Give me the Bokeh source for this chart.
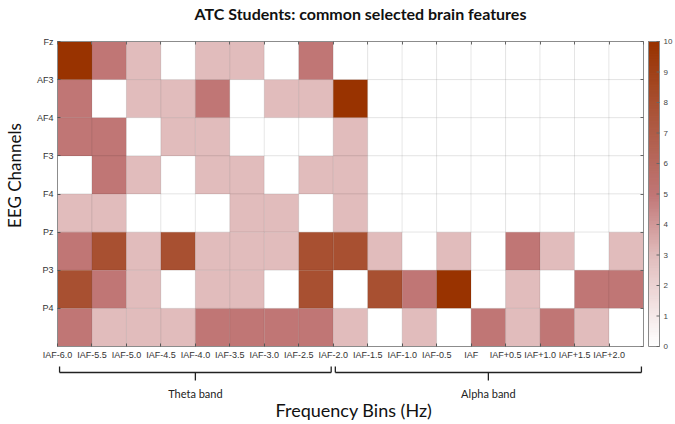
import numpy as np
from bokeh.plotting import figure
from bokeh.models import (ColumnDataSource, LinearColorMapper, FixedTicker, LinearAxis, Range1d)
from bokeh.core.properties import value
from bokeh.embed import file_html
from bokeh.resources import INLINE

# ---------------- data ----------------
channels = ["Fz", "AF3", "AF4", "F3", "F4", "Pz", "P3", "P4"]
bins = ["IAF-6.0", "IAF-5.5", "IAF-5.0", "IAF-4.5", "IAF-4.0", "IAF-3.5", "IAF-3.0",
        "IAF-2.5", "IAF-2.0", "IAF-1.5", "IAF-1.0", "IAF-0.5", "IAF", "IAF+0.5",
        "IAF+1.0", "IAF+1.5", "IAF+2.0"]
fz  = [10, 5, 3, 0, 3, 3, 0, 5, 0, 0, 0, 0, 0, 0, 0, 0, 0]
af3 = [5, 0, 3, 3, 5, 0, 3, 3, 10, 0, 0, 0, 0, 0, 0, 0, 0]
af4 = [5, 5, 0, 3, 3, 0, 0, 0, 3, 0, 0, 0, 0, 0, 0, 0, 0]
f3  = [0, 5, 3, 0, 3, 3, 0, 3, 3, 0, 0, 0, 0, 0, 0, 0, 0]
f4  = [3, 3, 0, 0, 0, 3, 3, 0, 3, 0, 0, 0, 0, 0, 0, 0, 0]
pz  = [5, 8, 3, 8, 3, 3, 3, 8, 8, 3, 0, 3, 0, 5, 3, 0, 3]
p3  = [8, 5, 3, 0, 3, 3, 0, 8, 0, 8, 5, 10, 0, 3, 0, 5, 5]
p4  = [5, 3, 3, 3, 5, 5, 5, 5, 3, 0, 3, 0, 5, 3, 5, 3, 0]
rows = [fz, af3, af4, f3, f4, pz, p3, p4]
bands = ["Theta band", "Alpha band"]
band_from = [0, 8]
band_to = [8, 17]
cbar_ticks = list(range(11))
VMIN, VMAX = 0, 10

# ---------------- colour map ----------------
anchors_v = [0, 3, 5, 8, 10]
anchors_c = [(255, 255, 255), (225, 188, 188), (192, 118, 118), (168, 80, 50), (153, 51, 0)]
NCOL = 128
palette = []
for t in np.linspace(VMIN, VMAX, NCOL):
    r = np.interp(t, anchors_v, [c[0] for c in anchors_c])
    g = np.interp(t, anchors_v, [c[1] for c in anchors_c])
    b = np.interp(t, anchors_v, [c[2] for c in anchors_c])
    palette.append("#%02x%02x%02x" % (int(round(r)), int(round(g)), int(round(b))))
mapper = LinearColorMapper(palette=palette, low=VMIN, high=VMAX)

xs, ys, vals = [], [], []
for ri, rr in enumerate(rows):
    for ci, v in enumerate(rr):
        xs.append(ci + 0.5)
        ys.append(ri + 0.5)
        vals.append(v)
src = ColumnDataSource(dict(x=xs, y=ys, v=vals))

# ---------------- geometry: the frame covers the whole canvas ----------------
W, H = 675, 424
nx, ny = len(bins), len(channels)
COL_PX, ROW_PX = 34.47, 38.125
HEAT_LEFT, HEAT_TOP = 57, 41


def dx(px):   # canvas x pixel -> data x
    return (px - HEAT_LEFT) / COL_PX


def dy(py):   # canvas y pixel -> data y (rows grow downward)
    return (py - HEAT_TOP) / ROW_PX


p = figure(frame_width=W, frame_height=H,
           x_range=Range1d(dx(0), dx(W)), y_range=Range1d(dy(H), dy(0)),
           output_backend="svg", toolbar_location=None,
           min_border_left=0, min_border_top=0, min_border_bottom=0, min_border_right=0)
p.rect(x="x", y="y", width=1, height=1, source=src,
       fill_color={"field": "v", "transform": mapper},
       line_color="#000000", line_alpha=0.07, line_width=1)
p.rect(x=nx / 2, y=ny / 2, width=nx, height=ny, fill_color=None,
       line_color="#8c8c8c", line_width=1)
p.grid.visible = False
p.outline_line_color = None
p.background_fill_color = "white"
p.border_fill_color = "white"

FONT = "Liberation Sans"
xa = p.xaxis[0]
xa.fixed_location = ny
xa.ticker = FixedTicker(ticks=list(range(nx)))
xa.major_label_overrides = {i: b for i, b in enumerate(bins)}
ya = p.yaxis[0]
ya.fixed_location = 0
ya.ticker = FixedTicker(ticks=list(range(ny)))
ya.major_label_overrides = {i: c for i, c in enumerate(channels)}
for ax in (xa, ya):
    ax.axis_line_color = None
    ax.major_tick_in = 3
    ax.major_tick_out = 0
    ax.major_tick_line_color = "#555555"
    ax.minor_tick_line_color = None
    ax.major_label_text_font = FONT
    ax.major_label_text_font_size = "9px"
    ax.major_label_text_color = "#333333"
xa.major_label_standoff = 3
ya.major_label_standoff = 4

# tick-only axes on the top and right edges of the heat map
top = LinearAxis(ticker=FixedTicker(ticks=list(range(nx + 1))), fixed_location=0,
                 major_label_overrides={i: "" for i in range(nx + 1)})
right = LinearAxis(ticker=FixedTicker(ticks=list(range(ny + 1))), fixed_location=nx,
                   major_label_overrides={i: "" for i in range(ny + 1)})
for ax in (top, right):
    ax.axis_line_color = None
    ax.major_tick_in = 3
    ax.major_tick_out = 0
    ax.major_tick_line_color = "#666666"
    ax.minor_tick_line_color = None
    ax.major_label_text_font_size = "1px"
p.add_layout(top, "above")
p.add_layout(right, "right")

# ---------------- title and axis titles ----------------
p.text(x=[dx(360)], y=[dy(13)], text=["ATC Students: common selected brain features"],
       text_font=value("Lato"), text_font_style="bold", text_font_size="16px",
       text_align="center", text_baseline="middle", text_color="#111111")
p.text(x=[dx(14)], y=[dy(175)], text=["EEG Channels"], angle=np.pi / 2,
       text_font=value("Lato"), text_font_size="17px",
       text_align="center", text_baseline="middle", text_color="#111111")
p.text(x=[nx / 2 + 0.1], y=[9.66], text=["Frequency Bins (Hz)"], text_font=value("Lato"),
       text_font_size="18px", text_align="center", text_baseline="middle",
       text_color="#111111")

# ---------------- band brackets and labels ----------------
yH, yUp, yDn = dy(372), dy(366), dy(380)
x0s, y0s, x1s, y1s = [], [], [], []
for a, b in zip(band_from, band_to):
    l, r, c = a + 0.06, b - 0.06, (a + b) / 2
    for seg in [(l, yUp, l, yH), (l, yH, r, yH), (c, yH, c, yDn), (r, yH, r, yUp)]:
        x0s.append(seg[0]); y0s.append(seg[1]); x1s.append(seg[2]); y1s.append(seg[3])
bsrc = ColumnDataSource(dict(x0=x0s, y0=y0s, x1=x1s, y1=y1s))
p.segment(x0="x0", y0="y0", x1="x1", y1="y1", source=bsrc,
          line_color="#222222", line_width=1.3)
lsrc = ColumnDataSource(dict(x=[(a + b) / 2 for a, b in zip(band_from, band_to)],
                             y=[dy(393)] * len(bands), t=bands))
p.text(x="x", y="y", text="t", source=lsrc, text_font=value("Lato"),
       text_font_size="11px", text_align="center", text_baseline="middle",
       text_color="#222222")

# ---------------- colour bar (drawn from the palette, same height as the heat map) ----------------
CB_L, CB_R = dx(648), dx(659)


def vy(v):    # colour-bar value -> data y
    return ny - (v - VMIN) / (VMAX - VMIN) * ny


edges = np.linspace(VMIN, VMAX, NCOL + 1)
overlap = (edges[1] - edges[0]) * 0.6
p.quad(left=CB_L, right=CB_R, bottom=[vy(e) for e in edges[:-1]],
       top=[vy(min(e + overlap, VMAX)) for e in edges[1:]],
       fill_color=palette, line_color=palette, line_width=0.8)
p.rect(x=(CB_L + CB_R) / 2, y=ny / 2, width=CB_R - CB_L, height=ny, fill_color=None,
       line_color="#8a8a8a", line_width=1)
p.segment(x0=[CB_R - 3 / COL_PX] * len(cbar_ticks), x1=[CB_R] * len(cbar_ticks),
          y0=[vy(t) for t in cbar_ticks], y1=[vy(t) for t in cbar_ticks],
          line_color="#666666", line_width=1)
p.text(x=[CB_R + 4 / COL_PX] * len(cbar_ticks), y=[vy(t) for t in cbar_ticks],
       text=[str(t) for t in cbar_ticks], text_font=value(FONT), text_font_size="8px",
       text_align="left", text_baseline="middle", text_color="#444444")

open("out.html", "w").write(file_html(p, INLINE))
